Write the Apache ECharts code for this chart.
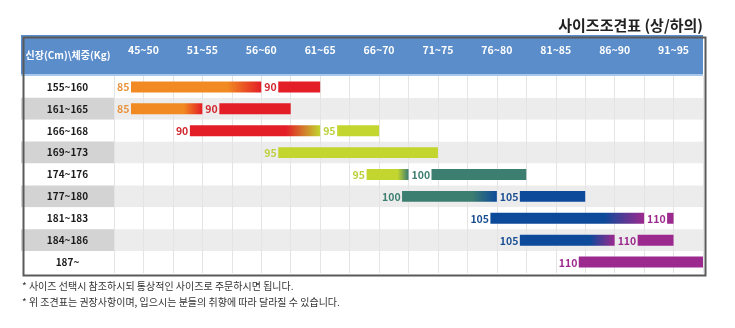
<!DOCTYPE html>
<html>
<head>
<meta charset="utf-8">
<script src="https://cdn.jsdelivr.net/npm/echarts@6/dist/echarts.min.js"></script>
<style>
html,body{margin:0;padding:0;background:#fff;}
#main{width:735px;height:328px;}
</style>
</head>
<body>
<div id="main"></div>
<script>
// ---- data ----
const titleText = '사이즈조견표 (상/하의)';
const cornerLabel = '신장(Cm)\\체중(Kg)';
const heights = ['155~160','161~165','166~168','169~173','174~176','177~180','181~183','184~186','187~'];
const weights = ['45~50','51~55','56~60','61~65','66~70','71~75','76~80','81~85','86~90','91~95'];
const sizes = ['85','90','95','100','105','110'];
// segments: row index, size, start & end measured in weight columns
const segRow   = [0,   0,   1,   1, 2,   2,   3,   4, 4,   5,   5,   6, 6,   7,   7,   8];
const segSize  = ['85','90','85','90','90','95','95','95','100','100','105','105','110','105','110','110'];
const segStart = [0,   2.5, 0,   1.5, 1,   3.5, 2.5, 4, 5,   4.5, 6.5, 6, 9,   6.5, 8.5, 7.5];
const segEnd   = [2.5, 3.5, 1.5, 3,   3.5, 4.5, 5.5, 5, 7,   6.5, 8,   9, 9.5, 8.5, 9.5, 10];
const notes = [
  '* 사이즈 선택시 참조하시되 통상적인 사이즈로 주문하시면 됩니다.',
  '* 위 조견표는 권장사항이며, 입으시는 분들의 취향에 따라 달라질 수 있습니다.'
];

// ---- styles ----
const barColor = {'85':'#F18A22','90':'#E31E27','95':'#C3D52F','100':'#3C7E70','105':'#0D4A9A','110':'#9C298E'};
const txtColor = {'85':'#E9933D','90':'#D1262E','95':'#BCD03C','100':'#3C7E70','105':'#1B4F93','110':'#9C298E'};
const FONT = '"Noto Sans CJK KR","Noto Sans",sans-serif';

const segData = segRow.map((r,i)=>{
  let next = -1;
  for (let j=0;j<segRow.length;j++){ if(segRow[j]===r && segStart[j]===segEnd[i]) next=j; }
  return [segStart[i], segEnd[i], r, i, next];
});

const chart = echarts.init(document.getElementById('main'), null, {renderer:'canvas'});
const GL = 114, GR = 32, GT = 76, GB = 55;

chart.setOption({
  animation:false,
  backgroundColor:'#ffffff',
  title:{
    text:titleText, right:32, top:18, padding:0,
    textStyle:{fontFamily:FONT, fontWeight:'bold', fontSize:15, color:'#222'}
  },
  grid:{left:GL, right:GR, top:GT, bottom:GB},
  xAxis:{
    type:'value', position:'top', min:0, max:10, interval:0.5,
    axisLine:{show:false}, axisTick:{show:false},
    splitLine:{show:true, lineStyle:{color:'#e4e4e4', width:1}},
    axisLabel:{
      interval:0, margin:21, color:'#ffffff', fontFamily:FONT, fontWeight:'bold', fontSize:10.5,
      showMinLabel:true, showMaxLabel:true,
      formatter:(v)=>{ const i=v-0.5; return Number.isInteger(i)&&weights[i]?weights[i]:''; }
    }
  },
  yAxis:{
    type:'category', data:heights, inverse:true,
    axisLine:{show:false}, axisTick:{show:false},
    splitLine:{show:false},
    splitArea:{show:true, interval:0, areaStyle:{color:['#ffffff','#ececec']}},
    axisLabel:{
      interval:0, margin:0,
      formatter:(v, idx)=> (idx%2===1 ? '{g|'+v+'}' : '{w|'+v+'}'),
      rich:{
        g:{backgroundColor:'#d3d3d3', width:93, height:22, lineHeight:22, align:'center',
           fontFamily:FONT, fontWeight:'bold', fontSize:10, color:'#1a1a1a'},
        w:{backgroundColor:'#ffffff', width:93, height:22, lineHeight:22, align:'center',
           fontFamily:FONT, fontWeight:'bold', fontSize:10, color:'#1a1a1a'}
      }
    }
  },
  graphic:[
    {type:'rect', left:21, top:35, shape:{width:682, height:41}, style:{fill:'#5A8DC9'}, z:-1},
    {type:'rect', left:21, top:74, shape:{width:682, height:2}, style:{fill:'#A8C7EC'}, z:-1},
    {type:'text', x:68, y:55, style:{text:cornerLabel, fill:'#fff', font:'bold 10px '+FONT, align:'center', verticalAlign:'middle'}},
    {type:'rect', left:21, top:35, shape:{width:682, height:238}, style:{fill:'none', stroke:'#5a5a5a', lineWidth:2}, z:100},
    {type:'text', left:22, top:281, style:{text:notes[0], fill:'#333', font:'10px '+FONT}},
    {type:'text', left:22, top:297, style:{text:notes[1], fill:'#333', font:'10px '+FONT}}
  ],
  series:[{
    type:'custom',
    data:segData,
    encode:{x:[0,1], y:2},
    renderItem:(params, api)=>{
      const s = api.coord([api.value(0), api.value(2)]);
      const e = api.coord([api.value(1), api.value(2)]);
      const idx = api.value(3), next = api.value(4);
      const size = segSize[idx];
      const bandH = api.size([0,1])[1];
      const h = bandH*0.5;
      const pad = size.length>2 ? 23 : 17;
      const x0 = s[0]+pad, x1 = e[0];
      let fill = barColor[size];
      if (next>=0){
        fill = new echarts.graphic.LinearGradient(0,0,1,0,[
          {offset:0,color:barColor[size]},{offset:0.74,color:barColor[size]},{offset:1,color:barColor[segSize[next]]}
        ]);
      }
      return {type:'group', children:[
        {type:'rect', shape:{x:x0, y:s[1]-h/2, width:x1-x0, height:h}, style:{fill:fill}},
        {type:'text', style:{text:size, x:s[0]+3, y:s[1]+0.5, fill:txtColor[size],
          font:'bold 10.5px '+FONT, align:'left', verticalAlign:'middle'}}
      ]};
    }
  }]
});
</script>
</body>
</html>
